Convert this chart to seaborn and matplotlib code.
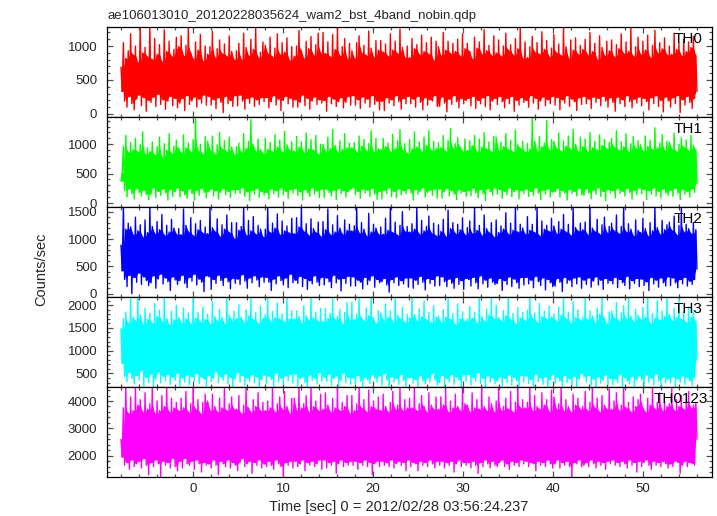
import numpy as np
import pandas as pd
import matplotlib
matplotlib.use("Agg")
import matplotlib.pyplot as plt
from matplotlib.ticker import MultipleLocator
import seaborn as sns

sns.set_style("ticks")
plt.rcParams["font.family"] = ["Liberation Sans", "DejaVu Sans"]

TITLE = "ae106013010_20120228035624_wam2_bst_4band_nobin.qdp"
X_LABEL = "Time [sec] 0 = 2012/02/28 03:56:24.237"
Y_LABEL = "Counts/sec"

BANDS = ["TH0", "TH1", "TH2", "TH3", "TH0123"]
COLORS = ["#ff0000", "#00ff00", "#0000ff", "#00ffff", "#ff00ff"]

# time span covered by the light curve (sec)
T_START, T_STOP = -8.0, 56.0

# count rates (alternating local peak / dip, in time order)
th0 = [
    690, 330, 1050, 190, 820, 100, 930, 260, 1180, 150, 870, 60, 1000, 220, 760, 280, 1280, 120, 900, 240, 980, 40, 840, 200,
    1280, 170, 800, 250, 1110, 110, 880, 290, 1020, 140, 770, 210, 1240, 70, 920, 190, 1070, 260, 850, 120, 950, 230, 1130, 90,
    990, 160, 1150, 230, 860, 50, 1010, 270, 1280, 140, 900, 190, 810, 250, 1060, 100, 940, 220, 1170, 160, 780, 280, 1000, 130,
    880, 260, 990, 130, 1220, 210, 830, 80, 960, 240, 1090, 170, 890, 20, 1030, 260, 850, 150, 1150, 200, 920, 110, 800, 270,
    930, 120, 1040, 280, 800, 190, 1190, 70, 980, 230, 860, 160, 1100, 250, 950, 110, 1260, 210, 830, 140, 910, 240, 1060, 180,
    1010, 240, 890, 90, 1130, 180, 840, 270, 970, 130, 1180, 220, 880, 50, 1050, 200, 910, 260, 1120, 150, 790, 230, 990, 100,
    850, 210, 1000, 100, 1230, 170, 930, 280, 820, 120, 1070, 230, 960, 70, 1140, 190, 870, 250, 1020, 140, 1190, 210, 900, 160,
    1200, 200, 890, 40, 1060, 260, 840, 150, 1170, 220, 950, 110, 1280, 180, 860, 240, 990, 90, 1110, 170, 810, 260, 1040, 130,
    930, 270, 820, 130, 1050, 210, 1150, 80, 900, 250, 1010, 160, 860, 220, 1220, 100, 970, 270, 840, 140, 1080, 190, 940, 60,
    1080, 190, 910, 50, 1030, 240, 850, 160, 1180, 210, 940, 120, 1070, 270, 890, 180, 1250, 70, 980, 230, 830, 150, 1000, 260,
    830, 150, 1110, 220, 960, 100, 1020, 260, 870, 170, 1160, 60, 920, 240, 1050, 130, 880, 210, 1130, 190, 790, 270, 1070, 110,
    990, 110, 860, 250, 1200, 160, 940, 30, 1070, 220, 890, 140, 1040, 270, 920, 180, 1100, 90, 850, 230, 1180, 150, 960, 200,
    1040, 230, 920, 120, 810, 260, 1130, 80, 970, 200, 1060, 150, 880, 240, 1240, 110, 930, 270, 1010, 60, 860, 190, 1150, 230,
    900, 140, 1090, 260, 850, 180, 1000, 90, 1190, 230, 940, 150, 1020, 260, 870, 40, 1110, 200, 960, 130, 1280, 240, 820, 170,
    1060, 200, 830, 100, 990, 270, 1140, 160, 910, 230, 1050, 70, 880, 190, 1210, 250, 950, 120, 1080, 210, 840, 150, 970, 260,
    1170, 130, 900, 240, 1030, 60, 860, 210, 1260, 160, 990, 270, 820, 110, 1090, 220, 940, 180, 1120, 50, 880, 240, 1010, 140,
    950, 260, 1100, 150, 870, 220, 1200, 80, 920, 250, 1040, 170, 800, 230, 1150, 120, 980, 260, 860, 190, 1070, 100, 930, 240,
    1090, 170, 840, 40, 1020, 250, 960, 150, 1180, 210, 890, 110, 1060, 270, 920, 180, 1280, 90, 850, 220, 990, 160, 1130, 250,
    880, 120, 1070, 230, 940, 180, 1160, 60, 830, 240, 1010, 150, 1230, 270, 900, 110, 1050, 200, 960, 30, 1120, 250, 870, 190,
    1000, 100, 880, 240, 1190, 150, 950, 270, 1040, 20, 860, 210, 1100, 130, 920, 260, 1060, 170, 980, 80, 1140, 230, 860, 330,
]
th1 = [
    370, 520, 960, 210, 1150, 100, 860, 240, 1030, 160, 910, 70, 1100, 250, 870, 180, 990, 120, 1210, 220, 830, 140, 940, 60,
    880, 150, 1040, 260, 820, 90, 960, 200, 1120, 130, 780, 240, 1010, 170, 900, 50, 1180, 230, 850, 110, 970, 190, 1070, 260,
    930, 100, 850, 210, 1160, 140, 940, 80, 1020, 240, 870, 160, 1080, 50, 1460, 220, 890, 130, 1000, 250, 830, 180, 1130, 90,
    1050, 190, 900, 240, 1140, 120, 830, 210, 990, 70, 1200, 180, 920, 250, 1060, 140, 870, 200, 1120, 90, 950, 230, 820, 160,
    960, 230, 1020, 160, 860, 260, 1180, 110, 930, 190, 1050, 40, 1420, 220, 980, 150, 880, 250, 1090, 100, 910, 200, 840, 130,
    1100, 180, 910, 70, 1030, 240, 870, 160, 1160, 210, 950, 100, 1070, 260, 860, 140, 1220, 200, 990, 80, 900, 230, 1040, 170,
    880, 250, 1130, 130, 950, 190, 1040, 50, 860, 230, 1190, 170, 920, 110, 1080, 260, 900, 150, 1150, 210, 830, 90, 1000, 240,
    1000, 90, 870, 240, 1120, 180, 930, 120, 1250, 220, 980, 60, 860, 250, 1060, 160, 910, 210, 1180, 100, 940, 190, 1020, 230,
    940, 260, 1030, 140, 860, 200, 1140, 80, 970, 240, 1080, 170, 890, 220, 1010, 110, 1230, 250, 870, 150, 1100, 60, 920, 200,
    910, 70, 1100, 220, 960, 160, 1020, 260, 870, 110, 1170, 200, 930, 90, 1060, 240, 1250, 140, 900, 210, 1010, 160, 840, 250,
    1080, 170, 920, 50, 1210, 230, 950, 150, 1040, 200, 870, 260, 1120, 100, 980, 180, 1230, 220, 890, 130, 1050, 240, 930, 80,
    1030, 240, 940, 80, 1150, 190, 880, 250, 1060, 120, 1270, 210, 930, 150, 1010, 60, 1110, 230, 960, 170, 880, 200, 1090, 110,
    900, 210, 1060, 120, 980, 250, 1150, 170, 860, 90, 1090, 230, 950, 160, 1200, 40, 920, 250, 1040, 190, 870, 130, 1130, 260,
    1120, 150, 890, 230, 1040, 80, 960, 200, 1180, 140, 910, 260, 1070, 110, 870, 190, 1240, 230, 990, 70, 930, 210, 1050, 160,
    870, 240, 1010, 110, 920, 200, 1440, 130, 1050, 260, 880, 170, 1130, 60, 960, 220, 1020, 150, 1400, 240, 900, 100, 1080, 190,
    1050, 190, 930, 250, 1190, 100, 880, 210, 1060, 170, 970, 50, 1140, 230, 910, 160, 1250, 200, 1000, 120, 870, 250, 1120, 140,
    960, 130, 1090, 240, 870, 170, 1200, 70, 940, 220, 1050, 150, 900, 260, 1160, 110, 980, 200, 1080, 40, 920, 230, 1030, 170,
    1100, 210, 950, 90, 1230, 250, 890, 160, 1040, 200, 960, 120, 1180, 250, 870, 180, 1010, 70, 1130, 220, 930, 140, 1060, 260,
    990, 160, 880, 230, 1140, 60, 960, 210, 1070, 150, 910, 260, 1280, 120, 940, 200, 1020, 90, 1160, 240, 900, 170, 1050, 130,
    1040, 220, 920, 110, 1190, 250, 880, 170, 1000, 60, 1110, 230, 950, 150, 1070, 200, 890, 100, 1150, 240, 980, 180, 900, 330,
]
th2 = [
    890, 420, 1590, 260, 1180, 130, 1290, 340, 1220, 0, 1080, 300, 1400, 210, 1150, 380, 1260, 170, 1040, 310, 1350, 240, 1120, 150,
    1590, 200, 1230, 330, 1100, 100, 1320, 270, 1170, 360, 1450, 180, 1070, 290, 1250, 220, 1130, 60, 1360, 310, 1200, 250, 1090, 170,
    1190, 240, 1080, 340, 1550, 190, 1250, 110, 1130, 300, 1390, 230, 1060, 360, 1280, 160, 1170, 270, 1340, 210, 1110, 40, 1220, 330,
    1100, 310, 1590, 80, 1210, 260, 1140, 190, 1370, 340, 1050, 240, 1260, 150, 1180, 300, 1440, 220, 1120, 90, 1300, 280, 1010, 190,
    1300, 270, 1160, 170, 1230, 350, 1590, 230, 1070, 100, 1340, 290, 1150, 200, 1410, 330, 1090, 250, 1250, 130, 1180, 310, 1040, 210,
    1180, 300, 1590, 210, 1120, 60, 1290, 270, 1200, 180, 1460, 330, 1080, 240, 1330, 160, 1150, 290, 1240, 110, 1110, 360, 1380, 200,
    1100, 250, 1390, 190, 1220, 320, 1590, 130, 1140, 280, 1280, 80, 1070, 240, 1370, 180, 1190, 330, 1120, 210, 1310, 150, 1050, 300,
    1320, 160, 1170, 290, 1550, 220, 1080, 110, 1260, 340, 1130, 200, 1430, 270, 1200, 50, 1090, 280, 1350, 190, 1160, 320, 1270, 140,
    1150, 310, 1240, 140, 1590, 250, 1110, 210, 1300, 90, 1180, 300, 1060, 170, 1470, 240, 1130, 330, 1270, 120, 1200, 260, 1090, 200,
    1220, 220, 1090, 280, 1380, 160, 1160, 30, 1590, 260, 1120, 200, 1310, 310, 1070, 150, 1250, 240, 1500, 180, 1140, 290, 1230, 120,
    1130, 290, 1280, 100, 1180, 250, 1590, 170, 1090, 320, 1340, 210, 1150, 70, 1230, 280, 1420, 190, 1110, 260, 1290, 140, 1060, 330,
    1260, 150, 1140, 310, 1360, 220, 1050, 130, 1530, 270, 1190, 190, 1300, 100, 1100, 300, 1270, 170, 1170, 240, 1390, 80, 1080, 280,
    1210, 260, 1330, 140, 1100, 300, 1590, 200, 1160, 90, 1250, 330, 1070, 180, 1440, 250, 1190, 120, 1120, 290, 1300, 210, 1040, 170,
    1350, 190, 1120, 280, 1240, 60, 1180, 240, 1480, 170, 1090, 310, 1290, 130, 1160, 270, 1590, 200, 1130, 100, 1270, 300, 1200, 160,
    1090, 300, 1410, 180, 1160, 250, 1270, 110, 1120, 320, 1590, 220, 1060, 150, 1330, 290, 1180, 70, 1250, 260, 1140, 200, 1380, 130,
    1240, 140, 1100, 280, 1320, 210, 1180, 40, 1450, 300, 1130, 190, 1270, 250, 1070, 130, 1590, 290, 1210, 180, 1150, 310, 1290, 100,
    1170, 250, 1310, 170, 1080, 290, 1590, 120, 1200, 230, 1140, 310, 1360, 160, 1090, 250, 1260, 80, 1400, 280, 1120, 190, 1230, 240,
    1290, 180, 1150, 300, 1440, 110, 1100, 260, 1230, 200, 1590, 150, 1130, 320, 1280, 90, 1180, 240, 1060, 190, 1350, 280, 1160, 130,
    1120, 270, 1380, 150, 1190, 220, 1060, 60, 1300, 300, 1150, 180, 1590, 250, 1210, 120, 1090, 290, 1340, 200, 1170, 140, 1260, 310,
    1310, 150, 1160, 290, 1420, 200, 1080, 110, 1250, 260, 1560, 180, 1130, 300, 1270, 140, 1190, 230, 1100, 170, 1300, 260, 1170, 450,
]
th3 = [
    1480, 720, 1700, 430, 1850, 320, 1610, 520, 2180, 390, 1740, 270, 1660, 460, 2180, 350, 1790, 560, 1580, 230, 1930, 410, 1690, 300,
    1820, 490, 1600, 210, 2040, 370, 1750, 530, 1890, 290, 1640, 440, 2180, 340, 1710, 480, 1570, 260, 1870, 420, 1680, 350, 2000, 510,
    1730, 210, 1610, 400, 1940, 310, 1700, 470, 1830, 250, 1590, 430, 2180, 340, 1720, 500, 1840, 280, 1630, 420, 1960, 370, 1690, 200,
    1800, 460, 1580, 320, 2090, 390, 1750, 540, 1650, 300, 1910, 430, 1730, 350, 1590, 490, 2180, 270, 1780, 410, 1670, 200, 1870, 380,
    1710, 520, 2010, 310, 1740, 450, 1620, 240, 1900, 400, 1760, 330, 2180, 480, 1680, 290, 1830, 420, 1600, 200, 1980, 360, 1720, 470,
    1790, 280, 2180, 440, 1650, 370, 1860, 220, 1730, 510, 2050, 310, 1690, 400, 1810, 260, 1630, 450, 2180, 340, 1700, 480, 1880, 290,
    1700, 490, 1880, 230, 1750, 380, 1610, 430, 1990, 300, 1770, 210, 1670, 470, 2180, 350, 1720, 400, 1850, 270, 1640, 520, 1930, 330,
    1640, 420, 1930, 320, 1710, 490, 1820, 240, 2180, 380, 1680, 450, 1760, 200, 1910, 340, 1590, 510, 1840, 290, 2060, 410, 1690, 260,
    2070, 400, 1690, 270, 1800, 460, 2180, 330, 1730, 200, 1650, 420, 1940, 360, 1770, 280, 2180, 470, 1710, 390, 1600, 310, 1880, 450,
    1830, 240, 1670, 500, 2020, 350, 1740, 200, 1870, 430, 1630, 310, 2180, 390, 1780, 260, 1700, 480, 1950, 340, 1620, 220, 1800, 410,
    1720, 410, 2180, 290, 1790, 370, 1660, 220, 1920, 450, 1750, 330, 2090, 270, 1680, 400, 1840, 310, 1610, 500, 1990, 360, 1740, 240,
    1760, 300, 1620, 460, 1900, 210, 1740, 390, 2180, 320, 1690, 480, 1820, 260, 1570, 420, 2030, 350, 1710, 200, 1860, 470, 1650, 330,
    1690, 480, 1970, 250, 1720, 410, 1850, 330, 1600, 520, 2180, 280, 1750, 390, 1640, 200, 1910, 450, 1780, 310, 2180, 400, 1700, 270,
    2000, 330, 1730, 430, 1650, 220, 1880, 390, 1770, 300, 2180, 470, 1680, 250, 1820, 410, 1590, 340, 1950, 200, 1720, 460, 1840, 310,
    1660, 440, 1890, 280, 2180, 370, 1710, 210, 1830, 490, 1620, 320, 2040, 400, 1750, 260, 1870, 430, 1690, 200, 1980, 350, 1740, 480,
    1810, 270, 1640, 410, 1960, 330, 1780, 220, 2180, 460, 1700, 300, 1850, 380, 1610, 250, 2080, 440, 1730, 200, 1900, 370, 1670, 500,
    1740, 420, 2180, 310, 1690, 460, 1870, 240, 1760, 380, 1620, 200, 1940, 430, 1800, 290, 2180, 350, 1710, 470, 1590, 260, 1850, 390,
    1880, 250, 1720, 380, 2060, 300, 1650, 490, 1830, 220, 1990, 410, 1700, 330, 2180, 270, 1760, 440, 1640, 200, 1910, 360, 1780, 450,
    1690, 360, 1950, 210, 1740, 470, 2180, 310, 1600, 400, 1820, 250, 1720, 490, 2100, 330, 1670, 200, 1880, 420, 1750, 300, 2180, 380,
    1800, 290, 1660, 430, 1930, 220, 1730, 380, 2140, 300, 1690, 450, 1850, 260, 1620, 410, 1960, 330, 1740, 240, 1870, 420, 1640, 800,
]
th0123 = [
    2600, 1950, 3750, 1650, 4510, 1750, 3550, 1500, 4150, 1850, 3650, 1600, 4510, 1700, 3850, 1800, 4050, 1550, 3600, 1900, 4300, 1650, 3700, 1300,
    3900, 1750, 4510, 1600, 3550, 1850, 4000, 1700, 3650, 1220, 4200, 1800, 3800, 1650, 4510, 1750, 3600, 1550, 4100, 1900, 3750, 1600, 3950, 1450,
    3650, 1800, 4100, 1550, 3750, 1900, 4350, 1700, 3600, 1650, 3900, 1800, 4510, 1500, 3700, 1850, 4050, 1700, 3550, 1400, 3950, 1750, 4250, 1650,
    4000, 1700, 3650, 1550, 4250, 1850, 3800, 1650, 3600, 1300, 4100, 1800, 3750, 1700, 4450, 1600, 3650, 1850, 3900, 1550, 4150, 1750, 3700, 1650,
    3700, 1450, 4200, 1750, 3550, 1900, 3850, 1600, 4510, 1700, 3750, 1800, 3600, 1350, 4050, 1750, 3800, 1650, 4300, 1850, 3650, 1550, 3950, 1700,
    3650, 1600, 4000, 1800, 3750, 1650, 4510, 1500, 3600, 1850, 3900, 1700, 4150, 1600, 3700, 1250, 4350, 1750, 3800, 1650, 3550, 1800, 4100, 1550,
    4100, 1800, 3650, 1600, 4510, 1700, 3750, 1850, 3900, 1450, 4200, 1750, 3600, 1650, 4510, 1800, 3800, 1600, 4000, 1700, 3650, 1850, 4250, 1500,
    3700, 1850, 4300, 1550, 3850, 1750, 3600, 1650, 4100, 1800, 3750, 1350, 4510, 1700, 3650, 1850, 3950, 1600, 3800, 1750, 4200, 1650, 3550, 1800,
    4200, 1650, 3650, 1800, 3900, 1500, 4510, 1750, 3750, 1650, 4050, 1850, 3600, 1600, 4400, 1750, 3800, 1300, 4000, 1700, 3700, 1800, 4150, 1600,
    3650, 1800, 4250, 1650, 3800, 1750, 3600, 1600, 3950, 1850, 4350, 1550, 3700, 1700, 3850, 1800, 4510, 1650, 3650, 1750, 4050, 1450, 3750, 1850,
    4100, 1600, 3750, 1750, 4510, 1700, 3650, 1450, 3900, 1800, 4200, 1650, 3800, 1750, 3600, 1600, 4300, 1850, 3850, 1700, 3700, 1550, 4150, 1800,
    3700, 1650, 4150, 1800, 3850, 1550, 4400, 1750, 3600, 1650, 4000, 1800, 3750, 1400, 4250, 1700, 3800, 1850, 3650, 1600, 4510, 1750, 3900, 1650,
    3850, 1750, 3600, 1550, 4300, 1800, 3750, 1650, 4050, 1350, 3700, 1750, 4510, 1600, 3800, 1850, 3650, 1700, 4150, 1550, 3900, 1800, 3600, 1650,
    4000, 1600, 4450, 1750, 3650, 1850, 3800, 1600, 4100, 1700, 3700, 1500, 4350, 1800, 3600, 1650, 3950, 1750, 4510, 1600, 3750, 1850, 4050, 1700,
    3750, 1800, 3950, 1600, 4510, 1750, 3650, 1700, 4200, 1450, 3800, 1800, 3700, 1650, 4300, 1750, 3850, 1600, 4050, 1850, 3600, 1700, 4400, 1550,
    4150, 1700, 3700, 1850, 3900, 1550, 4510, 1750, 3650, 1650, 4050, 1800, 3800, 1600, 3600, 1250, 4250, 1750, 3850, 1700, 4100, 1850, 3700, 1600,
    3800, 1650, 4350, 1750, 3650, 1600, 3950, 1850, 4510, 1700, 3750, 1550, 4100, 1800, 3600, 1650, 4200, 1750, 3850, 1500, 3700, 1800, 4450, 1700,
    3700, 1850, 4000, 1650, 4300, 1750, 3650, 1600, 3850, 1800, 4510, 1700, 3750, 1550, 3950, 1850, 3600, 1650, 4150, 1750, 3800, 1400, 4050, 1800,
    4250, 1600, 3750, 1750, 3600, 1850, 4100, 1650, 3850, 1500, 4510, 1800, 3700, 1650, 3950, 1750, 4300, 1600, 3650, 1800, 4000, 1700, 3800, 1550,
    3900, 1700, 4450, 1600, 3650, 1800, 4050, 1750, 3800, 1350, 4200, 1650, 3700, 1800, 3950, 1600, 4350, 1750, 3750, 1700, 3850, 1650, 3950, 2600,
]

RATES = [th0, th1, th2, th3, th0123]

# axis ranges as qdp chose them
X_LIMITS = (-9.556, 57.667)
Y_LIMITS = [(-45, 1280), (-68, 1463), (-60, 1586), (202, 2180), (1220, 4513)]
Y_MAJOR = [500, 500, 500, 500, 1000]
Y_MINOR = [100, 100, 100, 100, 200]

frames = []
for band, rate in zip(BANDS, RATES):
    frames.append(pd.DataFrame({
        "time": np.linspace(T_START, T_STOP, len(rate)),
        "rate": rate,
        "band": band,
    }))
df = pd.concat(frames, ignore_index=True)

fig = plt.figure(figsize=(7.17, 5.16), dpi=100)
W, H = 717, 516
left, right, top, bottom = 107, 712, 27, 477
panel_h = (bottom - top) / len(BANDS)

for i, band in enumerate(BANDS):
    ax = fig.add_axes([left / W, 1 - (top + (i + 1) * panel_h) / H,
                       (right - left) / W, panel_h / H])
    sub = df[df["band"] == band].reset_index(drop=True)

    # dense core of the curve: where neighbouring peaks and dips overlap
    peaks = sub.iloc[0::2].reset_index(drop=True)
    dips = sub.iloc[1::2].reset_index(drop=True)
    core_hi = peaks["rate"].rolling(2, min_periods=1).min()
    core_lo = dips["rate"].rolling(2, min_periods=1).max()
    ax.fill_between(peaks["time"], core_lo, core_hi, color=COLORS[i],
                    linewidth=0)

    sns.lineplot(data=sub, x="time", y="rate", ax=ax, color=COLORS[i],
                 linewidth=1.0, estimator=None, sort=False, legend=False)

    ax.set_xlim(*X_LIMITS)
    ax.set_ylim(*Y_LIMITS[i])
    ax.xaxis.set_major_locator(MultipleLocator(10))
    ax.xaxis.set_minor_locator(MultipleLocator(2))
    ax.yaxis.set_major_locator(MultipleLocator(Y_MAJOR[i]))
    ax.yaxis.set_minor_locator(MultipleLocator(Y_MINOR[i]))
    ax.tick_params(which="both", direction="in", top=True, right=True,
                   color="#505050", width=0.9, labelsize=9.5)
    ax.tick_params(which="major", length=4.5)
    ax.tick_params(which="minor", length=2.5)
    ax.tick_params(axis="y", pad=7)
    ax.tick_params(axis="x", pad=4.5)
    ax.set_xlabel("")
    ax.set_ylabel("")
    if i < len(BANDS) - 1:
        ax.tick_params(axis="x", labelbottom=False)
    for sp in ax.spines.values():
        sp.set_color("black")
        sp.set_linewidth(0.9)
        sp.set_zorder(3)

    label_x = 0.993 if band == "TH0123" else 0.985
    ax.text(label_x, 0.945, band, transform=ax.transAxes, ha="right", va="top",
            fontsize=11, color="black", zorder=4)

fig.text(left / W, 1 - 19 / H, TITLE, ha="left", va="baseline", fontsize=9.5)
fig.text(398.5 / W, 1 - 511.5 / H, X_LABEL, ha="center", va="baseline", fontsize=10.5)
fig.text(41.5 / W, 1 - 269 / H, Y_LABEL, ha="center", va="center",
         rotation=90, fontsize=10.5)

fig.savefig("out.png", dpi=100)
